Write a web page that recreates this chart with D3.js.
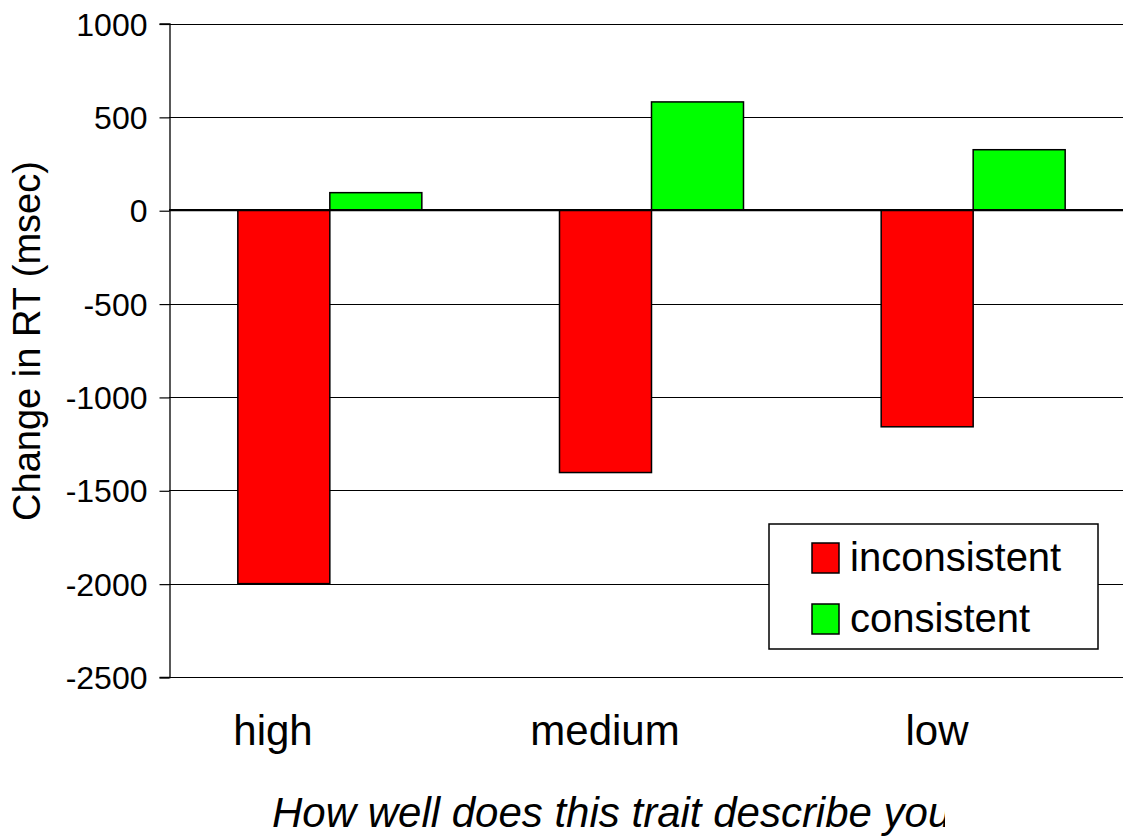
<!DOCTYPE html>
<html>
<head>
<meta charset="utf-8">
<script src="https://cdn.jsdelivr.net/npm/d3@7"></script>
<style>
  body { margin: 0; background: #fff; }
  svg { display: block; font-family: "Liberation Sans", Arial, sans-serif; }
</style>
</head>
<body>
<div id="chart"></div>
<script>
// chart data
const categories = ["high", "medium", "low"];
const seriesNames = ["inconsistent", "consistent"];
const inconsistentValues = [-2000, -1405, -1160];
const consistentValues = [94, 580, 324];
const yTicks = [1000, 500, 0, -500, -1000, -1500, -2000, -2500];
const seriesColors = ["#ff0000", "#00ff00"];

// build rows for drawing
let data = categories.map((c, i) => ({
    category: c,
    values: [
        {series: seriesNames[0], value: inconsistentValues[i]},
        {series: seriesNames[1], value: consistentValues[i]}
    ]
}));

let width = 1123, height = 836;

let svg = d3.select("#chart").append("svg")
    .attr("width", width)
    .attr("height", height);

// scales (plot runs past the right edge of the picture)
let x = d3.scaleBand().domain(categories).range([169, 1134]);
let barW = 92;
let xSub = d3.scaleBand().domain(seriesNames)
    .range([x.bandwidth() / 2 - barW, x.bandwidth() / 2 + barW]);
let y = d3.scaleLinear().domain([-2500, 1000]).range([677, 23.5]);
let color = d3.scaleOrdinal().domain(seriesNames).range(seriesColors);

// label positions for categories are spread a bit wider than the bars
let xLabel = d3.scaleBand().domain(categories).range([107, 1103]);

// gridlines
svg.append("g")
    .selectAll("line")
    .data(yTicks)
    .enter()
    .append("line")
    .attr("x1", 169)
    .attr("x2", width)
    .attr("y1", d => Math.round(y(d)) + 0.5)
    .attr("y2", d => Math.round(y(d)) + 0.5)
    .attr("stroke", "#000")
    .attr("stroke-width", 1.2);

// y axis (plain hyphen for negatives, like the original)
let yAxis = svg.append("g")
    .attr("transform", "translate(169.5,0)")
    .call(d3.axisLeft(y).tickValues(yTicks).tickSize(10).tickPadding(12).tickFormat(d => String(d)));
yAxis.select(".domain").attr("stroke", "#000").attr("stroke-width", 1.3);
yAxis.selectAll(".tick line").attr("stroke", "#000").attr("stroke-width", 1.2)
    .attr("transform", "translate(0,0.5)");
yAxis.selectAll(".tick text")
    .style("font-size", "32px")
    .style("font-family", "'Liberation Sans', Arial, sans-serif")
    .attr("fill", "#000")
    .attr("dy", "0.36em");

// bars
let groups = svg.selectAll(".grp")
    .data(data)
    .enter()
    .append("g")
    .attr("class", "grp")
    .attr("transform", d => "translate(" + x(d.category) + ",0)");

groups.selectAll("rect")
    .data(d => d.values)
    .enter()
    .append("rect")
    .attr("x", d => xSub(d.series))
    .attr("width", xSub.bandwidth())
    .attr("y", d => y(Math.max(0, d.value)))
    .attr("height", d => Math.abs(y(d.value) - y(0)))
    .attr("fill", d => color(d.series))
    .attr("stroke", "#000")
    .attr("stroke-width", 1.5);

// zero line
svg.append("line")
    .attr("x1", 169)
    .attr("x2", width)
    .attr("y1", y(0))
    .attr("y2", y(0))
    .attr("stroke", "#000")
    .attr("stroke-width", 2.2);

// category labels
svg.append("g")
    .selectAll("text")
    .data(categories)
    .enter()
    .append("text")
    .attr("x", d => xLabel(d) + xLabel.bandwidth() / 2)
    .attr("y", 745)
    .attr("text-anchor", "middle")
    .style("font-size", "42px")
    .text(d => d);

// axis titles
svg.append("text")
    .attr("transform", "translate(40,341) rotate(-90)")
    .attr("text-anchor", "middle")
    .style("font-size", "38px")
    .text("Change in RT (msec)");

svg.append("clipPath")
    .attr("id", "titleClip")
    .append("rect")
    .attr("x", 0).attr("y", 760)
    .attr("width", 945).attr("height", 80);

svg.append("text")
    .attr("x", 272)
    .attr("y", 827)
    .attr("clip-path", "url(#titleClip)")
    .style("font-size", "42px")
    .style("font-style", "italic")
    .text("How well does this trait describe you?");

// legend
let legend = svg.append("g").attr("transform", "translate(769,524)");
legend.append("rect")
    .attr("width", 329)
    .attr("height", 125)
    .attr("fill", "#fff")
    .attr("stroke", "#000")
    .attr("stroke-width", 1.5);

let items = legend.selectAll(".item")
    .data(seriesNames)
    .enter()
    .append("g")
    .attr("class", "item")
    .attr("transform", (d, i) => "translate(43," + (19 + i * 61) + ")");

items.append("rect")
    .attr("width", 27)
    .attr("height", 30)
    .attr("fill", d => color(d))
    .attr("stroke", "#000")
    .attr("stroke-width", 1.5);

items.append("text")
    .attr("x", 38)
    .attr("y", 28)
    .style("font-size", "40px")
    .text(d => d);
</script>
</body>
</html>
